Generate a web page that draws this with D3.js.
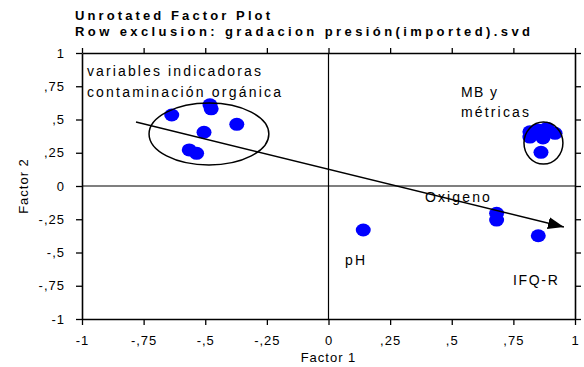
<!DOCTYPE html>
<html>
<head>
<meta charset="utf-8">
<script src="https://cdn.jsdelivr.net/npm/d3@7"></script>
<style>
  body{margin:0;background:#fff;}
  text{font-family:"Liberation Sans", Arial, sans-serif;fill:#000;}
</style>
</head>
<body>
<div class="chart"></div>
<script>
/*data*/
var factor1=[-0.636,-0.481,-0.476,-0.505,-0.372,-0.565,-0.535,
             0.817,0.850,0.886,0.919,0.870,0.817,0.862,
             0.682,0.682,0.141,0.851];
var factor2=[0.534,0.610,0.580,0.404,0.464,0.271,0.246,
             0.408,0.421,0.434,0.396,0.361,0.368,0.253,
             -0.205,-0.256,-0.331,-0.374];

var ticks=[-1,-0.75,-0.5,-0.25,0,0.25,0.5,0.75,1];

var titles=["Unrotated Factor Plot","Row exclusion: gradacion presión(imported).svd"];

/*annotations: text and where it sits in factor units*/
var noteText=["variables indicadoras","contaminación orgánica","MB y","métricas","Oxigeno","pH","IFQ-R"];
var noteX=[-0.98,-0.98,0.5375,0.5375,0.391,0.067,0.748];
var noteY=[0.827,0.669,0.669,0.519,-0.120,-0.594,-0.744];

/*group ellipses: centre and radii in factor units*/
var groupCx=[-0.485,0.872];
var groupCy=[0.391,0.323];
var groupRx=[0.243,0.079];
var groupRy=[0.233,0.158];

/*gradient arrow*/
var arrowFrom=[-0.781,0.481];
var arrowTo=[0.955,-0.308];

/*dimensions*/
var width=584, height=367;
var margin={top:53, bottom:48, left:82, right:9};

var x=d3.scaleLinear().domain([-1,1]).range([margin.left, width-margin.right]);
var y=d3.scaleLinear().domain([-1,1]).range([height-margin.bottom, margin.top]);

function fmt(d){
  if(d===0) return "0";
  if(Math.abs(d)===1) return d<0 ? "-1" : "1";
  return (d<0?"-":"")+","+String(Math.abs(d)).split(".")[1];
}

var svg=d3.select(".chart").append("svg")
  .attr("width", width)
  .attr("height", height);

// titles
var tl=[195,455];
svg.selectAll(".title").data(titles).enter().append("text")
  .attr("class","title")
  .attr("x",75)
  .attr("y",function(d,i){return 20+i*16})
  .attr("textLength",function(d,i){return tl[i]})
  .attr("lengthAdjust","spacing")
  .style("font-size","13px")
  .style("font-weight","bold")
  .text(function(d){return d});

// zero lines
svg.append("line")
  .attr("x1",x(-1)).attr("x2",x(1)).attr("y1",y(0)).attr("y2",y(0))
  .attr("stroke","#000").attr("stroke-width",1.2);
svg.append("line")
  .attr("x1",x(0)).attr("x2",x(0)).attr("y1",y(-1)).attr("y2",y(1))
  .attr("stroke","#000").attr("stroke-width",1.2);

// axes on all four sides
var xb=d3.axisBottom(x).tickValues(ticks).tickSize(6).tickSizeOuter(0).tickFormat(fmt);
var xt=d3.axisTop(x).tickValues(ticks).tickSize(5).tickSizeOuter(0).tickFormat("");
var yl=d3.axisLeft(y).tickValues(ticks).tickSize(6).tickSizeOuter(0).tickFormat(fmt);
var yr=d3.axisRight(y).tickValues(ticks).tickSize(6).tickSizeOuter(0).tickFormat("");

var gxb=svg.append("g").attr("transform","translate(0,"+y(-1)+")").call(xb);
var gxt=svg.append("g").attr("transform","translate(0,"+y(1)+")").call(xt);
var gyl=svg.append("g").attr("transform","translate("+x(-1)+",0)").call(yl);
var gyr=svg.append("g").attr("transform","translate("+x(1)+",0)").call(yr);

[gxb,gxt,gyl,gyr].forEach(function(g){
  g.select(".domain").attr("stroke","#000").attr("stroke-width",1.6);
  g.selectAll(".tick line").attr("stroke","#000").attr("stroke-width",1.3);
  g.selectAll(".tick text")
    .style("font-family","Liberation Sans, Arial, sans-serif")
    .style("font-size","13px")
    .style("letter-spacing","1px")
    .attr("fill","#000");
});
gxb.selectAll(".tick text").attr("y",17);
gyl.selectAll(".tick text").attr("x",-17);

// axis titles
svg.append("text")
  .attr("x",x(0)).attr("y",362)
  .attr("text-anchor","middle")
  .style("font-size","13px").style("letter-spacing","1px")
  .text("Factor 1");
svg.append("text")
  .attr("transform","translate(28,"+y(0)+") rotate(-90)")
  .attr("text-anchor","middle")
  .style("font-size","13px").style("letter-spacing","1px")
  .text("Factor 2");

// points
svg.selectAll(".pt").data(factor1).enter().append("ellipse")
  .attr("class","pt")
  .attr("cx",function(d){return x(d)})
  .attr("cy",function(d,i){return y(factor2[i])})
  .attr("rx",7.5).attr("ry",6.5)
  .attr("fill","#0000ff");

// group outlines
svg.selectAll(".grp").data(groupCx).enter().append("ellipse")
  .attr("class","grp")
  .attr("cx",function(d){return x(d)})
  .attr("cy",function(d,i){return y(groupCy[i])})
  .attr("rx",function(d,i){return x(groupRx[i])-x(0)})
  .attr("ry",function(d,i){return y(0)-y(groupRy[i])})
  .attr("fill","none").attr("stroke","#000").attr("stroke-width",1.5);

// arrow
svg.append("defs").append("marker")
  .attr("id","head")
  .attr("viewBox","0 0 16 12")
  .attr("refX",16).attr("refY",6)
  .attr("markerWidth",16).attr("markerHeight",12)
  .attr("markerUnits","userSpaceOnUse")
  .attr("orient","auto")
  .append("path").attr("d","M0,0 L16,6 L0,12 Z").attr("fill","#000");

svg.append("line")
  .attr("x1",x(arrowFrom[0])).attr("y1",y(arrowFrom[1]))
  .attr("x2",x(arrowTo[0])).attr("y2",y(arrowTo[1]))
  .attr("stroke","#000").attr("stroke-width",1.5)
  .attr("marker-end","url(#head)");

// annotations
var nl=[174,194,36,68,65,20,45];
svg.selectAll(".note").data(noteText).enter().append("text")
  .attr("class","note")
  .attr("x",function(d,i){return x(noteX[i])})
  .attr("y",function(d,i){return y(noteY[i])})
  .attr("textLength",function(d,i){return nl[i]})
  .attr("lengthAdjust","spacing")
  .style("font-size","14px")
  .text(function(d){return d});
</script>
</body>
</html>
